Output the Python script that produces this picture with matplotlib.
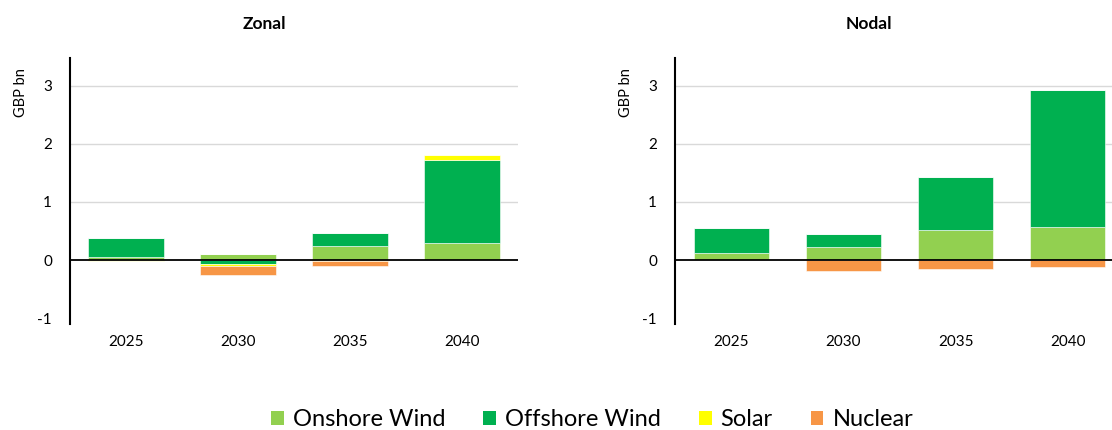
import matplotlib
matplotlib.use("Agg")
import matplotlib.pyplot as plt
import numpy as np
from matplotlib.patches import Patch

years = ["2025", "2030", "2035", "2040"]
series_names = ["Onshore Wind", "Offshore Wind", "Solar", "Nuclear"]
colors = ["#92D050", "#00B050", "#FFFF00", "#F79646"]

zonal_onshore = [0.046, 0.10, 0.24, 0.29]
zonal_offshore = [0.34, -0.075, 0.225, 1.44]
zonal_solar = [-0.01, -0.02, -0.015, 0.08]
zonal_nuclear = [0.0, -0.16, -0.08, 0.0]

nodal_onshore = [0.126, 0.224, 0.517, 0.569]
nodal_offshore = [0.43, 0.219, 0.92, 2.368]
nodal_solar = [-0.005, 0.0, 0.0, 0.0]
nodal_nuclear = [0.0, -0.184, -0.16, -0.126]

panels = [
    ("Zonal", [zonal_onshore, zonal_offshore, zonal_solar, zonal_nuclear]),
    ("Nodal", [nodal_onshore, nodal_offshore, nodal_solar, nodal_nuclear]),
]

plt.rcParams['font.family'] = ['Lato', 'DejaVu Sans']

W, H = 1112, 430
fig = plt.figure(figsize=(W / 100, H / 100), dpi=100)

px_per_unit = 58.0
y0_px = 260.0
top_px, bot_px = 57.7, 324.0
ymax = (y0_px - top_px) / px_per_unit
ymin = -(bot_px - y0_px) / px_per_unit
ax_h = (bot_px - top_px) / H
ax_bottom = 1 - bot_px / H

axes_px = [(70, 518, 3.5, 264.5), (675, 1112, 3.5 - 12 / 112.2, 869)]

for (title, data), (x0, x1, xr, tx) in zip(panels, axes_px):
    ax = fig.add_axes([x0 / W, ax_bottom, (x1 - x0) / W, ax_h])
    x = np.arange(len(years))
    pos = np.zeros(len(years))
    neg = np.zeros(len(years))
    for vals, c in zip(data, colors):
        v = np.array(vals, dtype=float)
        p = np.where(v > 0, v, 0)
        n = np.where(v < 0, v, 0)
        ax.bar(x, p, 0.67, bottom=pos, color=c, edgecolor="#ffffff", linewidth=0.4, zorder=2)
        ax.bar(x, n, 0.67, bottom=neg, color=c, edgecolor="#ffffff", linewidth=0.4, zorder=2)
        pos += p
        neg += n
    ax.set_xlim(-0.5, xr)
    ax.set_ylim(ymin, ymax)
    ax.set_yticks([-1, 0, 1, 2, 3])
    ax.set_yticklabels(["-1", "0", "1", "2", "3"])
    for g in [1, 2, 3]:
        ax.axhline(g, color="#d9d9d9", linewidth=1, zorder=1)
    ax.axhline(0, color="black", linewidth=1.3, zorder=3)
    ax.set_xticks(x)
    ax.set_xticklabels(years)
    for s in ["top", "right", "bottom"]:
        ax.spines[s].set_visible(False)
    ax.spines["left"].set_linewidth(1.5)
    ax.tick_params(axis="x", length=0, pad=8, labelsize=11)
    ax.tick_params(axis="y", length=0, pad=13, labelsize=11)
    ax.set_ylabel("GBP bn", fontsize=10.5)
    ax.yaxis.set_label_coords(-42 / (x1 - x0), (bot_px - 93) / (bot_px - top_px))
    fig.text(tx / W, 1 - 24 / H, title, ha="center", va="center", fontsize=12.5, fontweight="bold")

handles = [Patch(facecolor=c, edgecolor="none") for c in colors]
fig.legend(handles, series_names, loc="center", bbox_to_anchor=(592 / W, 1 - 420 / H), ncol=4,
           frameon=False, fontsize=17, handlelength=0.55, handleheight=0.55, handletextpad=0.38,
           columnspacing=1.6)

fig.savefig("out.png", dpi=100)
